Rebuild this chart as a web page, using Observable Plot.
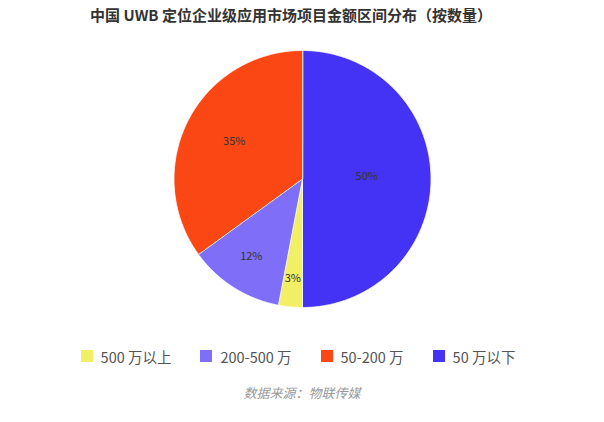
<!DOCTYPE html>
<html>
<head>
<meta charset="utf-8">
<script src="https://cdn.jsdelivr.net/npm/d3@7"></script>
<script src="https://cdn.jsdelivr.net/npm/@observablehq/plot@0.6"></script>
<style>
  html, body { margin: 0; padding: 0; background: #fff; }
  body { width: 604px; height: 422px; font-family: "Noto Sans CJK SC", "Noto Sans", sans-serif; }
  #title { height: 30px; line-height: 30px; text-align: center; font-weight: bold; font-size: 15px; color: #333; padding-right: 22px; }
  #chart svg { display: block; }
  #legend { margin-top: 20px; height: 20px; display: flex; justify-content: center; align-items: center; gap: 29px; font-size: 14.5px; color: #555; padding-right: 8px; }
  .item { display: flex; align-items: center; gap: 8px; }
  .sw { width: 12px; height: 12px; }
  #caption { margin-top: 17px; height: 20px; line-height: 20px; text-align: center; font-size: 13px; font-style: italic; color: #999; }
</style>
</head>
<body>
<div id="title">中国 UWB 定位企业级应用市场项目金额区间分布（按数量）</div>
<div id="chart"></div>
<div id="legend"></div>
<div id="caption">数据来源：物联传媒</div>
<script>
// Legend order
const categories = ["500 万以上", "200-500 万", "50-200 万", "50 万以下"];
const values = [3, 12, 35, 50];
const colors = ["#f1ef63", "#7e6ef8", "#fb4714", "#4533f5"];
// Clockwise drawing order starting at 12 o'clock
const pieOrder = ["50 万以下", "500 万以上", "200-500 万", "50-200 万"];

const valueOf = Object.fromEntries(categories.map((c, i) => [c, values[i]]));
const total = d3.sum(values);

const features = [];
const labels = [];
let acc = 0;
for (const name of pieOrder) {
  const v = valueOf[name];
  const a0 = acc / total * 2 * Math.PI;
  acc += v;
  const a1 = acc / total * 2 * Math.PI;
  const n = Math.max(2, Math.ceil((a1 - a0) / (Math.PI / 360)));
  const ring = [[0, 0]];
  for (let k = 0; k <= n; k++) {
    const a = a0 + (a1 - a0) * k / n;
    ring.push([Math.sin(a), -Math.cos(a)]);
  }
  ring.push([0, 0]);
  features.push({type: "Feature", properties: {name}, geometry: {type: "Polygon", coordinates: [ring]}});
  const am = (a0 + a1) / 2;
  const lr = 0.82 - 0.0064 * v;
  labels.push({name, text: v + "%", x: lr * Math.sin(am), y: -lr * Math.cos(am)});
}

const chart = Plot.plot({
  width: 604,
  height: 296,
  marginTop: 20,
  marginBottom: 19,
  marginLeft: 0,
  marginRight: 0,
  style: {fontFamily: "'Noto Sans CJK SC', 'Noto Sans', sans-serif", background: "transparent"},
  projection: {type: "identity", domain: {type: "MultiPoint", coordinates: [[-1, -1], [1, 1]]}},
  color: {domain: categories, range: colors},
  marks: [
    Plot.geo(features, {fill: d => d.properties.name, stroke: "white", strokeWidth: 0.8}),
    Plot.text(labels, {x: "x", y: "y", text: "text", fontSize: 11, fill: "#333", dy: -3})
  ]
});
document.getElementById("chart").appendChild(chart);

const legend = document.getElementById("legend");
categories.forEach((c, i) => {
  const item = document.createElement("div");
  item.className = "item";
  const sw = document.createElement("div");
  sw.className = "sw";
  sw.style.background = colors[i];
  const t = document.createElement("span");
  t.textContent = c;
  item.appendChild(sw);
  item.appendChild(t);
  legend.appendChild(item);
});
</script>
</body>
</html>
